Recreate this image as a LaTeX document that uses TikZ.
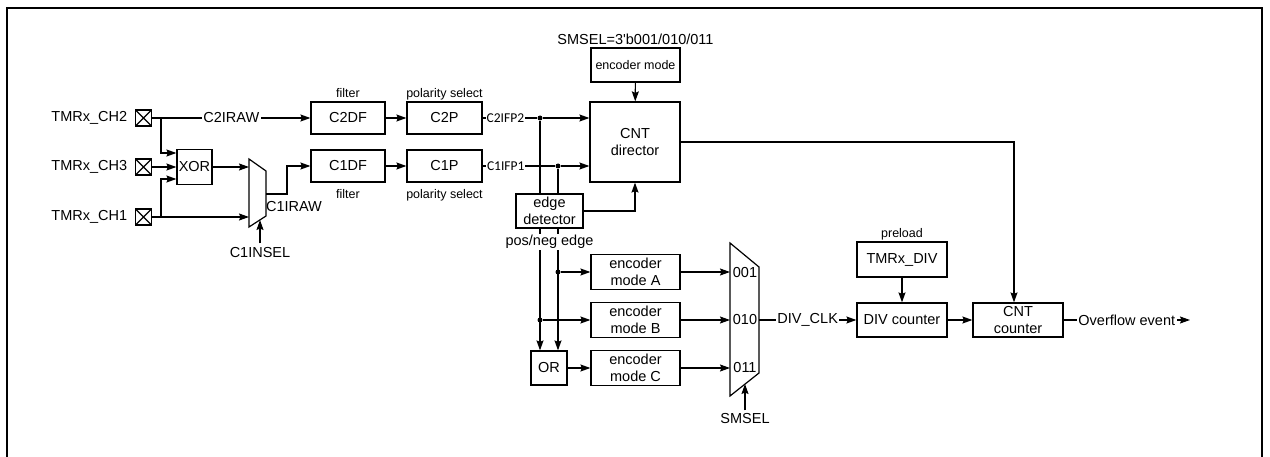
\documentclass[tikz,border=0pt]{standalone}
\usepackage{fontspec}
\setmainfont{Liberation Sans}
\newfontfamily\ifpfont{Carlito}
\usetikzlibrary{arrows.meta,positioning,calc}

\begin{document}
\begin{tikzpicture}[x=1pt,y=-1pt,>={Stealth[length=10pt,width=7pt,inset=1.5pt]},line width=1.2pt,
  blk/.style={draw,align=center,inner sep=0pt,font=\fontsize{14.5}{17}\selectfont},
  note/.style={inner sep=0pt,font=\fontsize{12.5}{14}\selectfont,text height=9pt,text depth=2.5pt},
  lbl/.style={inner sep=1.5pt,font=\fontsize{14.5}{17}\selectfont},
  ifp/.style={fill=white,inner sep=1pt,font=\ifpfont\fontsize{13.5}{15}\selectfont},
  port/.style={draw,line width=1.4pt,minimum size=16pt,inner sep=0pt,path picture={\draw[line width=1.1pt] (path picture bounding box.north west)--(path picture bounding box.south east) (path picture bounding box.south west)--(path picture bounding box.north east);}},
  dot/.style={circle,fill,inner sep=0pt,minimum size=5pt}]
\useasboundingbox (0,0) rectangle (1270,457);
\draw[line width=2.2pt] (7,8) rectangle (1262,470);

\node[port] (ch2) at (143.5,118) {};
\node[port] (ch3) at (143.5,167) {};
\node[port] (ch1) at (143.5,217) {};
\node[lbl,inner sep=0pt,left=7pt of ch2] (ch2txt) {TMRx\_CH2};
\node[lbl,inner sep=0pt,left=7pt of ch3] (ch3txt) {TMRx\_CH3};
\node[lbl,inner sep=0pt,left=7pt of ch1] (ch1txt) {TMRx\_CH1};
\coordinate (br2) at (161,118);
\coordinate (br1) at (161,217);

\node[blk,minimum width=35pt,minimum height=35pt] (xor) at (194.5,167) {XOR};
\draw (249,159) -- (266,171) -- (266,216) -- (249,227) -- cycle;
\coordinate (m1a) at (249,167);
\coordinate (m1b) at (249,217);
\coordinate (m1o) at (266,194);
\coordinate (m1s) at (260,220);
\node[lbl,inner sep=0pt] (c1raw) at (294,207) {C1IRAW};
\node[lbl,inner sep=4pt] (c1insel) at (260,253) {C1INSEL};

\node[blk,minimum width=74pt,minimum height=32pt] (c2df) at (348,118) {C2DF};
\node[blk,minimum width=74pt,minimum height=32pt] (c1df) at (348,166) {C1DF};
\node[blk,minimum width=75pt,minimum height=32pt] (c2p) at (444.5,118) {C2P};
\node[blk,minimum width=75pt,minimum height=32pt] (c1p) at (444.5,166) {C1P};
\node[note,above=0.5pt of c2df] (f2) {filter};
\node[note,below=6pt of c1df] (f1) {filter};
\node[note,above=0.5pt of c2p] (p2) {polarity select};
\node[note,below=6pt of c1p] (p1) {polarity select};

\node[blk,minimum width=90pt,minimum height=80pt] (dir) at (635,142) {CNT\\director};
\node[blk,font=\fontsize{12.5}{14}\selectfont,minimum width=89pt,minimum height=34pt] (encm) at (635.5,65) {encoder mode};
\node[lbl,inner sep=0pt,above=2pt of encm] (smselv) {SMSEL=3\textquotesingle b001/010/011};
\node[blk,minimum width=67pt,minimum height=34pt] (edge) at (549.5,211) {edge\\detector};
\node[dot] (j2) at (540,118) {};
\node[dot] (j1) at (558,166) {};

\node[blk,minimum width=89pt,minimum height=35pt] (enca) at (635.5,272) {encoder\\mode A};
\node[blk,minimum width=89pt,minimum height=35pt] (encb) at (635.5,320) {encoder\\mode B};
\node[blk,minimum width=89pt,minimum height=35pt] (encc) at (635.5,368) {encoder\\mode C};
\node[blk,minimum width=36pt,minimum height=34pt] (or) at (549,368) {OR};

\draw (730,243) -- (759,267) -- (759,373) -- (730,396) -- cycle;
\node[lbl,inner sep=0pt] (s001) at (745,273) {001};
\node[lbl,inner sep=0pt] (s010) at (745,320) {010};
\node[lbl,inner sep=0pt] (s011) at (745,368) {011};
\coordinate (m2a) at (730,272);
\coordinate (m2b) at (730,320);
\coordinate (m2c) at (730,368);
\coordinate (m2o) at (759,320);
\coordinate (m2s) at (745,384);
\node[lbl,inner sep=3pt] (smsel) at (745,419) {SMSEL};

\node[blk,minimum width=90pt,minimum height=35pt] (tdiv) at (902,259.5) {TMRx\_DIV};
\node[note,above=1pt of tdiv] (pre) {preload};
\node[blk,minimum width=90pt,minimum height=34pt] (divc) at (902,320) {DIV counter};
\node[blk,minimum width=90pt,minimum height=34pt] (cntc) at (1018,320) {CNT\\counter};
\coordinate (ovf) at (1190,320);

\draw[->] (ch2.east) -- (c2df.west) node[midway,lbl,fill=white] (c2raw) {C2IRAW};
\draw[->] (ch3.east) -- (xor.west);
\draw[->] (ch1.east) -- (m1b);
\draw[->] (br2) |- ([yshift=14pt]xor.west);
\draw[->] (br1) |- ([yshift=-12pt]xor.west);
\draw[->] (xor.east) -- (m1a);
\draw[->] (m1o) -- ++(21,0) |- (c1df.west);
\draw[->] (c1insel) -- (m1s);
\draw[->] (c2df) -- (c2p);
\draw[->] (c1df) -- (c1p);
\draw (c2p.east) -- (j2) node[pos=0.42,ifp] (c2ifp) {C2IFP2};
\draw (c1p.east) -- (j1) node[pos=0.32,ifp] (c1ifp) {C1IFP1};
\draw[->] (j2) -- (j2 -| dir.west);
\draw[->] (j1) -- (j1 -| dir.west);
\draw (j2) -- (j2 |- edge.north);
\draw (j1) -- (j1 |- edge.north);
\draw[->] (encm) -- (dir);
\draw[->] (edge.east) -| (dir.south);
\draw[->] (j2 |- edge.south) -- (j2 |- or.north);
\draw[->] (j1 |- edge.south) -- (j1 |- or.north);
\node[lbl,fill=white] (posneg) at (549.5,242) {pos/neg edge};
\node[dot] (ja) at (j1 |- enca) {};
\node[dot] (jb) at (j2 |- encb) {};
\draw[->] (ja) -- (enca);
\draw[->] (jb) -- (encb);
\draw[->] (or) -- (encc);
\draw[->] (enca) -- (m2a);
\draw[->] (encb) -- (m2b);
\draw[->] (encc) -- (m2c);
\draw[->] (smsel) -- (m2s);
\draw[->] (m2o) -- (divc.west) node[midway,lbl,fill=white] (divclk) {DIV\_CLK};
\draw[->] (tdiv) -- (divc);
\draw[->] (divc) -- (cntc);
\draw[->] (dir.east) -| ([xshift=-4pt]cntc.north);
\draw[->] (cntc.east) -- (ovf) node[midway,lbl,fill=white] (ovftxt) {Overflow event};
\end{tikzpicture}
\end{document}
